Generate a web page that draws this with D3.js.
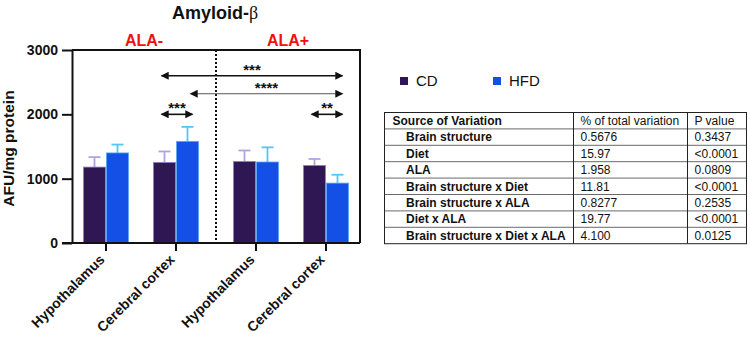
<!DOCTYPE html>
<html>
<head>
<meta charset="utf-8">
<script src="https://cdn.jsdelivr.net/npm/d3@7"></script>
<style>
  body { margin: 0; background: #fff; }
  svg { display: block; font-family: "Liberation Sans", Arial, sans-serif; }
</style>
</head>
<body>
<div id="chart"></div>
<script>
// data
const alaGroups = ['ALA-', 'ALA+'];
const structures = ['Hypothalamus', 'Cerebral cortex'];
const diets = ['CD', 'HFD'];
// mean values, [ala][structure][diet]
const means = [
  [[1180, 1400], [1253, 1580]],
  [[1268, 1259], [1206, 931]]
];
const sds = [
  [[155, 130], [170, 225]],
  [[170, 228], [100, 130]]
];
const yTicks = [0, 1000, 2000, 3000];
// comparisons: from/to = [ala, structure, diet], level in AFU units
const comparisons = [
  { from: [0, 1, 0], to: [1, 1, 1], level: 2600, label: '***', heavy: true },
  { from: [0, 1, 1], to: [1, 1, 1], level: 2320, label: '****', heavy: false },
  { from: [0, 1, 0], to: [0, 1, 1], level: 2000, label: '***', heavy: true },
  { from: [1, 1, 0], to: [1, 1, 1], level: 2000, label: '**', heavy: true }
];
const anovaHeader = ['Source of Variation', '% of total variation', 'P value'];
const anovaRows = [
  ['Brain structure', '0.5676', '0.3437'],
  ['Diet', '15.97', '<0.0001'],
  ['ALA', '1.958', '0.0809'],
  ['Brain structure x Diet', '11.81', '<0.0001'],
  ['Brain structure x ALA', '0.8277', '0.2535'],
  ['Diet x ALA', '19.77', '<0.0001'],
  ['Brain structure x Diet x ALA', '4.100', '0.0125']
];

const fill = { CD: '#2e1752', HFD: '#1450e6' };
const edge = { CD: '#8f80c8', HFD: '#5aa6f2' };
const errCol = { CD: '#b3a2e3', HFD: '#52c7f2' };

const W = 750, H = 342;
const margin = { top: 50, right: 390, bottom: 99, left: 72 };
const plotW = W - margin.left - margin.right;   // 288
const plotH = H - margin.top - margin.bottom;   // 193

const svg = d3.select('#chart').append('svg')
  .attr('width', W).attr('height', H);

const g = svg.append('g').attr('transform', `translate(${margin.left},${margin.top})`);

const y = d3.scaleLinear().domain([0, 3000]).range([plotH, 0]);
const xAla = d3.scaleBand().domain(alaGroups).range([0, plotW])
  .paddingInner(0.2267).paddingOuter(0.0733);
const xStruct = d3.scaleBand().domain(structures).range([0, xAla.bandwidth()])
  .paddingInner(0.343).paddingOuter(0);
const xDiet = d3.scaleBand().domain(diets).range([0, xStruct.bandwidth()]);

function barX(a, s, d) {
  return xAla(alaGroups[a]) + xStruct(structures[s]) + xDiet(diets[d]);
}
function barCenter(a, s, d) {
  return barX(a, s, d) + xDiet.bandwidth() / 2;
}
const sepX = xAla('ALA+') - xAla.step() * xAla.paddingInner() / 2;

// flat list of bars
const bars = [];
means.forEach((sm, a) => sm.forEach((dm, s) => dm.forEach((v, d) => {
  bars.push({ a, s, d, v, sd: sds[a][s][d], diet: diets[d] });
})));

// error bars (upper only) drawn behind bars
const eb = g.append('g');
bars.forEach(b => {
  const cx = barCenter(b.a, b.s, b.d);
  eb.append('line')
    .attr('x1', cx).attr('x2', cx)
    .attr('y1', y(b.v)).attr('y2', y(b.v + b.sd))
    .attr('stroke', errCol[b.diet]).attr('stroke-width', 1.8);
  eb.append('line')
    .attr('x1', cx - 6).attr('x2', cx + 6)
    .attr('y1', y(b.v + b.sd)).attr('y2', y(b.v + b.sd))
    .attr('stroke', errCol[b.diet]).attr('stroke-width', 1.8);
});

g.append('g').selectAll('rect')
  .data(bars)
  .join('rect')
  .attr('x', d => barX(d.a, d.s, d.d) + 0.5)
  .attr('y', d => y(d.v))
  .attr('width', xDiet.bandwidth() - 1)
  .attr('height', d => plotH - y(d.v))
  .attr('fill', d => fill[d.diet])
  .attr('stroke', d => edge[d.diet])
  .attr('stroke-width', 0.8);

// dotted separator between ALA groups
g.append('line')
  .attr('x1', sepX).attr('x2', sepX)
  .attr('y1', 0).attr('y2', plotH + 3)
  .attr('stroke', '#111').attr('stroke-width', 2)
  .attr('stroke-dasharray', '2,2');

// frame: top and right edges
g.append('path')
  .attr('d', `M0,0H${plotW}V${plotH}`)
  .attr('fill', 'none').attr('stroke', '#111').attr('stroke-width', 2);

// y axis
const yAxis = g.append('g')
  .call(d3.axisLeft(y).tickValues(yTicks).tickFormat(d3.format('d'))
    .tickSize(10).tickPadding(4).tickSizeOuter(0));
yAxis.select('.domain').attr('stroke-width', 2).attr('stroke', '#111');
yAxis.selectAll('.tick line').attr('stroke-width', 2).attr('stroke', '#111');
yAxis.selectAll('.tick text')
  .attr('font-size', 14).attr('font-weight', 'bold').attr('fill', '#111')
  .attr('font-family', '"Liberation Sans", Arial, sans-serif');

// x axis
const xCats = [];
alaGroups.forEach((al, a) => structures.forEach((st, s) => xCats.push({ a, s, name: st })));
const xa = g.append('g').attr('transform', `translate(0,${plotH})`);
xa.append('line').attr('x1', -10).attr('x2', plotW)
  .attr('stroke', '#111').attr('stroke-width', 2);
xCats.forEach(c => {
  const cx = barX(c.a, c.s, 1);
  xa.append('line').attr('x1', cx).attr('x2', cx).attr('y1', 0).attr('y2', 8)
    .attr('stroke', '#111').attr('stroke-width', 2);
  xa.append('text')
    .attr('transform', `translate(${cx - 4},${14}) rotate(-45)`)
    .attr('text-anchor', 'end')
    .attr('dy', '0.35em')
    .attr('font-size', 14).attr('font-weight', 'bold').attr('fill', '#111')
    .text(c.name);
});

// y axis title
svg.append('text')
  .attr('transform', `translate(14,${margin.top + plotH / 2 + 2}) rotate(-90)`)
  .attr('text-anchor', 'middle')
  .attr('font-size', 15.5).attr('font-weight', 'bold').attr('fill', '#111')
  .text('AFU/mg protein');

// chart title
const title = svg.append('text')
  .attr('x', 215).attr('y', 19)
  .attr('text-anchor', 'middle')
  .attr('font-size', 18).attr('font-weight', 'bold').attr('fill', '#111');
title.append('tspan').text('Amyloid-');
title.append('tspan').attr('font-family', '"Liberation Serif", serif')
  .attr('font-weight', 'normal').text('β');

// ALA group labels, centered on each half of the plot
alaGroups.forEach((al, i) => {
  svg.append('text')
    .attr('x', margin.left + (i === 0 ? sepX / 2 : (sepX + plotW) / 2))
    .attr('y', 46)
    .attr('text-anchor', 'middle')
    .attr('font-size', 16).attr('font-weight', 'bold').attr('fill', '#f01010')
    .text(al);
});

// significance arrows
const defs = svg.append('defs');
defs.append('marker')
  .attr('id', 'arr')
  .attr('viewBox', '0 0 10 10')
  .attr('refX', 9).attr('refY', 5)
  .attr('markerWidth', 9).attr('markerHeight', 8)
  .attr('markerUnits', 'userSpaceOnUse')
  .attr('orient', 'auto-start-reverse')
  .append('path').attr('d', 'M0,0L10,5L0,10Z')
  .attr('fill', '#111');
comparisons.forEach(c => {
  const x1 = barCenter(...c.from) - 3 + (c.heavy ? 0 : 6);
  const x2 = barCenter(...c.to) + 5;
  const yy = y(c.level);
  g.append('line')
    .attr('x1', x1).attr('x2', x2).attr('y1', yy).attr('y2', yy)
    .attr('stroke', c.heavy ? '#111' : '#555')
    .attr('stroke-width', c.heavy ? 1.6 : 1)
    .attr('marker-start', 'url(#arr)')
    .attr('marker-end', 'url(#arr)');
  g.append('text')
    .attr('x', (x1 + x2) / 2).attr('y', yy - 1)
    .attr('text-anchor', 'middle')
    .attr('font-size', 15).attr('font-weight', 'bold').attr('fill', '#111')
    .text(c.label);
});

// legend
const lg = svg.append('g').attr('transform', 'translate(400,81)');
diets.forEach((d, i) => {
  const it = lg.append('g').attr('transform', `translate(${i * 93},0)`);
  it.append('rect').attr('x', 0).attr('y', -4).attr('width', 8).attr('height', 8)
    .attr('fill', fill[d]);
  it.append('text').attr('x', 16).attr('y', 0).attr('dy', '0.36em')
    .attr('font-size', 15).attr('fill', '#111')
    .text(d);
});

// ANOVA table
const tbl = { x: 384.5, y: 112.5, colX: [0, 189, 303, 362], rowH: 16.4 };
const tg = svg.append('g').attr('transform', `translate(${tbl.x},${tbl.y})`);
const allRows = [anovaHeader].concat(anovaRows);
const tH = allRows.length * tbl.rowH;
tg.append('rect').attr('width', tbl.colX[3]).attr('height', tH)
  .attr('fill', 'none').attr('stroke', '#222').attr('stroke-width', 1);
allRows.forEach((r, i) => {
  if (i > 0) {
    tg.append('line').attr('x1', 0).attr('x2', tbl.colX[3])
      .attr('y1', i * tbl.rowH).attr('y2', i * tbl.rowH)
      .attr('stroke', '#444').attr('stroke-width', 0.8);
  }
  r.forEach((cell, j) => {
    tg.append('text')
      .attr('x', tbl.colX[j] + (j === 0 ? (i === 0 ? 8 : 21.5) : 7))
      .attr('y', i * tbl.rowH + tbl.rowH / 2)
      .attr('dy', '0.36em')
      .attr('font-size', 12)
      .attr('font-weight', j === 0 ? 'bold' : 'normal')
      .attr('fill', '#111')
      .text(cell);
  });
});
[1, 2].forEach(j => {
  tg.append('line').attr('x1', tbl.colX[j]).attr('x2', tbl.colX[j])
    .attr('y1', 0).attr('y2', tH)
    .attr('stroke', '#222').attr('stroke-width', 1);
});
</script>
</body>
</html>
